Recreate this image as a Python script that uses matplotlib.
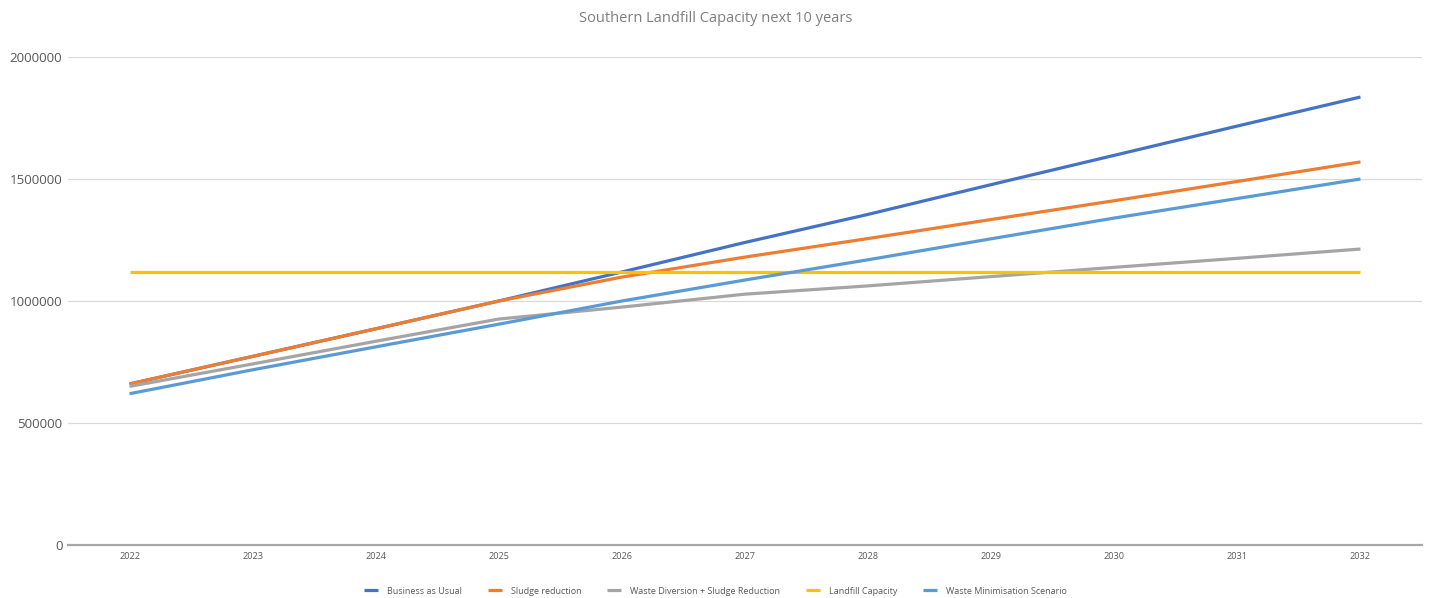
import numpy as np
import matplotlib.pyplot as plt

plt.rcParams['font.family'] = ['Open Sans', 'DejaVu Sans']

years = [2022, 2023, 2024, 2025, 2026, 2027, 2028, 2029, 2030, 2031, 2032]

business_as_usual = [660000, 773000, 886000, 1000000, 1119000, 1240000,
                     1355000, 1477000, 1597000, 1717000, 1836000]
sludge_reduction = [660000, 773000, 886000, 1000000, 1098000, 1180000,
                    1256000, 1334000, 1411000, 1490000, 1570000]
diversion_sludge = [650000, 742000, 835000, 926000, 975000, 1028000,
                    1062000, 1100000, 1138000, 1175000, 1213000]
landfill_capacity = [1120000] * 11
waste_minimisation = [620000, 718000, 812000, 905000, 1000000, 1086000,
                      1169000, 1255000, 1340000, 1420000, 1500000]

series = [
    ("Business as Usual", business_as_usual, "#4472C4"),
    ("Sludge reduction", sludge_reduction, "#ED7D31"),
    ("Waste Diversion + Sludge Reduction", diversion_sludge, "#A5A5A5"),
    ("Landfill Capacity", landfill_capacity, "#FFC000"),
    ("Waste Minimisation Scenario", waste_minimisation, "#5B9BD5"),
]

fig = plt.figure(figsize=(14.31, 5.98), dpi=100)
ax = fig.add_axes([68 / 1431, 1 - 545 / 598, (1422 - 68) / 1431, (545 - 57) / 598])

x = np.arange(len(years))
for name, vals, col in series:
    ax.plot(x, vals, color=col, lw=2.3, label=name, solid_capstyle='butt')

ax.set_xlim(-0.5, len(years) - 0.5)
ax.set_ylim(0, 2000000)
ax.set_xticks(x)
ax.set_xticklabels([str(y) for y in years], fontsize=6.6, color='#595959')
ax.set_yticks([0, 500000, 1000000, 1500000, 2000000])
ax.set_yticklabels(['0', '500000', '1000000', '1500000', '2000000'],
                   fontsize=9.6, color='#595959')
ax.tick_params(axis='both', length=0)
ax.tick_params(axis='x', pad=5)
ax.tick_params(axis='y', pad=4)

ax.grid(axis='y', color='#D9D9D9', lw=0.9)
ax.set_axisbelow(True)
for s in ['top', 'right', 'left']:
    ax.spines[s].set_visible(False)
ax.spines['bottom'].set_color('#A6A6A6')
ax.spines['bottom'].set_linewidth(1.6)

fig.text(0.5, 1 - 19 / 598, "Southern Landfill Capacity next 10 years",
         ha='center', va='center', fontsize=10.5, color='#7F7F7F')

fig.legend(loc='center', bbox_to_anchor=(0.5, 1 - 591 / 598), ncol=5,
           frameon=False, fontsize=6.5, handlelength=1.6, handletextpad=1.0,
           columnspacing=2.8, labelcolor='#595959')

fig.savefig('out.png', dpi=100)
